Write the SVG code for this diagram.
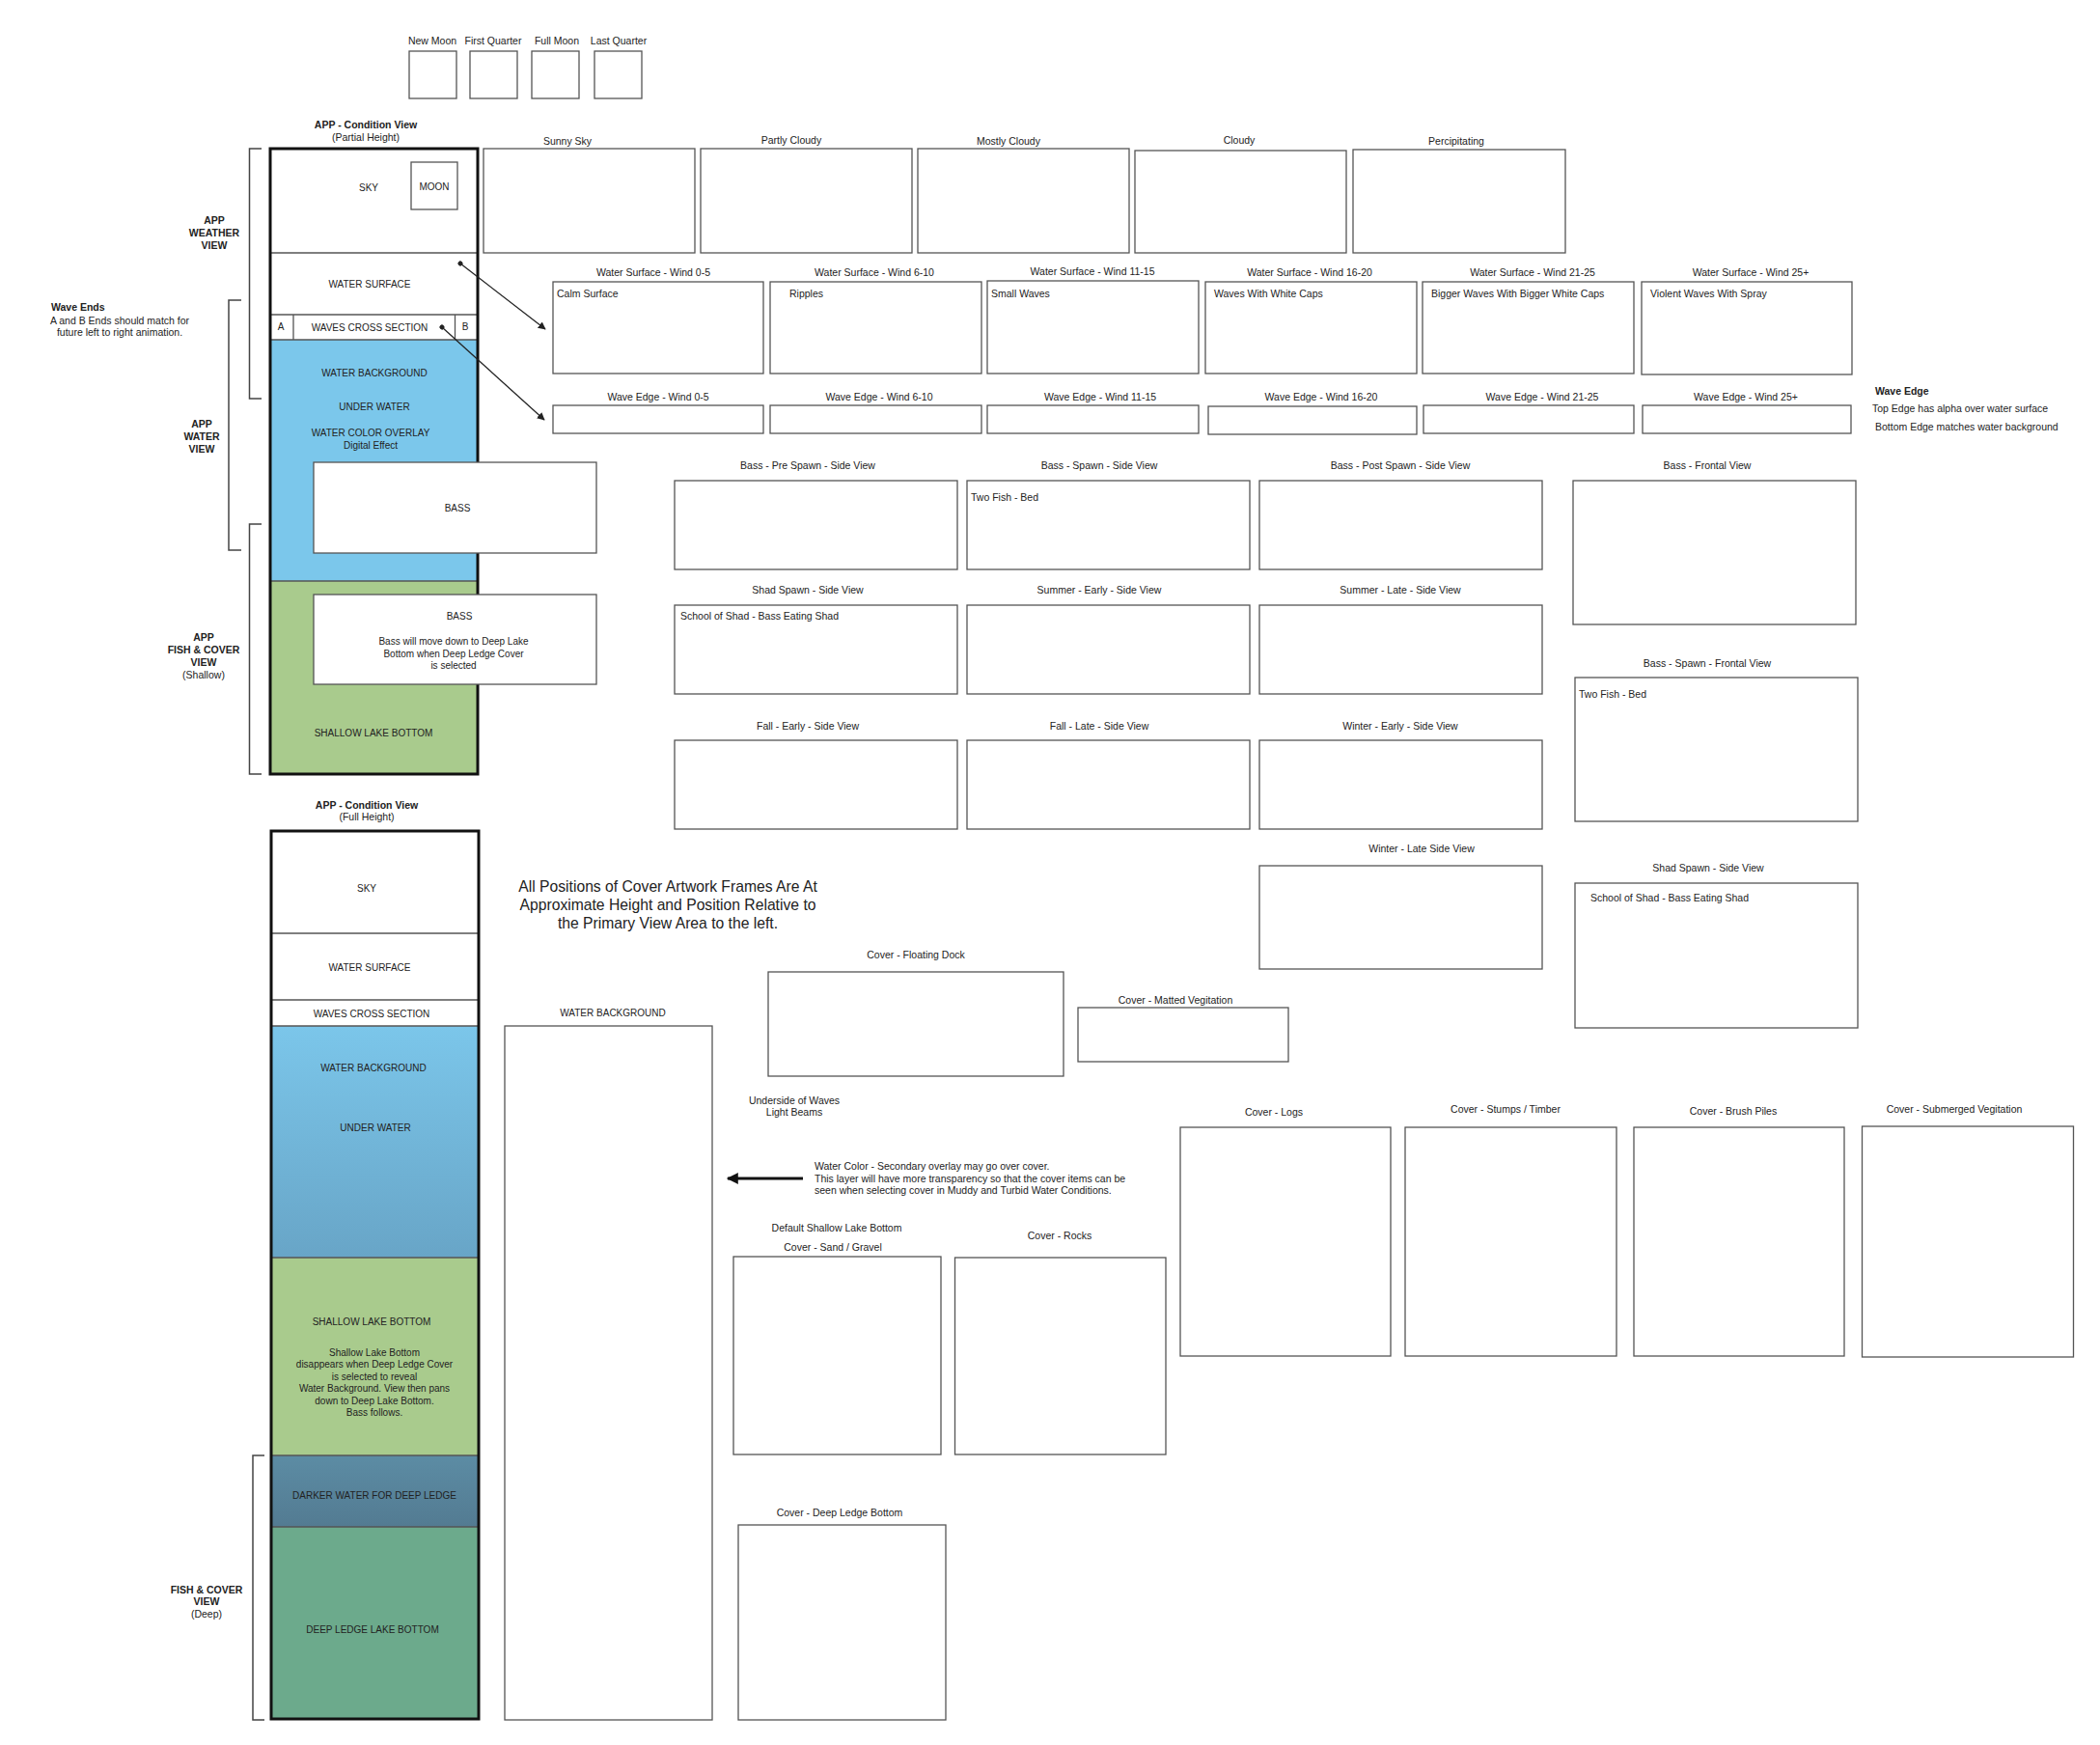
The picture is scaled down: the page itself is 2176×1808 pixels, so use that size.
<svg xmlns="http://www.w3.org/2000/svg" width="2176" height="1808" viewBox="0 0 2176 1808">
<style>
text{font-family:"Liberation Sans",Arial,Helvetica,sans-serif;font-size:10.5px;fill:#222;text-anchor:middle;dominant-baseline:central}
.l{text-anchor:start}
.b{font-weight:bold}
.cv{font-size:10px}
.big{font-size:15.7px}
.box{fill:#fff;stroke:#555;stroke-width:1.3}
.ln{fill:none;stroke:#555;stroke-width:1.3}
.frame{fill:none;stroke:#111;stroke-width:3}
.brk{fill:none;stroke:#444;stroke-width:1.5}
.con{fill:none;stroke:#222;stroke-width:1.3}
</style>
<defs>
<marker id="ah" viewBox="0 0 10 10" refX="9" refY="5" markerWidth="8" markerHeight="8" orient="auto" markerUnits="userSpaceOnUse"><path d="M0,0 L10,5 L0,10 z" fill="#222"/></marker>
<marker id="dot" viewBox="0 0 10 10" refX="5" refY="5" markerWidth="5" markerHeight="5" orient="auto" markerUnits="userSpaceOnUse"><circle cx="5" cy="5" r="5" fill="#222"/></marker>
<marker id="ahbig" viewBox="0 0 10 10" refX="9" refY="5" markerWidth="14" markerHeight="12" orient="auto" markerUnits="userSpaceOnUse"><path d="M0,0 L10,5 L0,10 z" fill="#111"/></marker>
<linearGradient id="gBlue" x1="0" y1="0" x2="0" y2="1"><stop offset="0" stop-color="#7BC6EA"/><stop offset="1" stop-color="#68A5C7"/></linearGradient>
<linearGradient id="gDark" x1="0" y1="0" x2="0" y2="1"><stop offset="0" stop-color="#5C8CA4"/><stop offset="1" stop-color="#537B92"/></linearGradient>
</defs>
<rect width="2176" height="1808" fill="#fff"/>

<!-- Moon phases -->
<g id="moon-new"><rect class="box" x="424" y="53" width="49" height="49"/><text x="448" y="42">New Moon</text></g>
<g id="moon-first"><rect class="box" x="487" y="53" width="49" height="49"/><text x="511" y="42">First Quarter</text></g>
<g id="moon-full"><rect class="box" x="551" y="53" width="49" height="49"/><text x="577" y="42">Full Moon</text></g>
<g id="moon-last"><rect class="box" x="616" y="53" width="49" height="49"/><text x="641" y="42">Last Quarter</text></g>

<!-- Condition view partial -->
<g id="condition-partial">
<text class="b" x="379" y="129">APP -  Condition View</text>
<text x="379" y="142">(Partial Height)</text>
<rect x="280" y="154" width="215" height="198" fill="#fff"/>
<rect x="280" y="352" width="214" height="250" fill="#7BC7EB"/>
<rect x="280" y="602" width="215" height="200" fill="#A9CB8D"/>
<path class="ln" d="M280,262 H495 M280,326 H495 M280,352 H495 M304,326 V352 M471.5,326 V352 M280,602 H495"/>
<rect class="box" x="426" y="168" width="48" height="49"/>
<text class="cv" x="382" y="194">SKY</text>
<text class="cv" x="450" y="193">MOON</text>
<text class="cv" x="383" y="294">WATER SURFACE</text>
<text class="cv" x="291" y="338">A</text>
<text class="cv" x="383" y="339">WAVES CROSS SECTION</text>
<text class="cv" x="482" y="338">B</text>
<text class="cv" x="388" y="386">WATER BACKGROUND</text>
<text class="cv" x="388" y="421">UNDER WATER</text>
<text class="cv" x="384" y="448">WATER COLOR OVERLAY</text>
<text class="cv" x="384" y="461">Digital Effect</text>
<text class="cv" x="387" y="759">SHALLOW LAKE BOTTOM</text>
<rect class="frame" x="280" y="154" width="215" height="648"/>
</g>
<g id="bass-1"><rect class="box" x="325" y="479" width="293" height="94"/><text class="cv" x="474" y="526">BASS</text></g>
<g id="bass-2"><rect class="box" x="325" y="616" width="293" height="93"/>
<text class="cv" x="476" y="638">BASS</text>
<text class="cv" x="470" y="664">Bass will move down to Deep Lake</text>
<text class="cv" x="470" y="677">Bottom when Deep Ledge Cover</text>
<text class="cv" x="470" y="689">is selected</text></g>

<!-- Brackets and side labels -->
<g id="weather-view-label"><path class="brk" d="M271,154 H258.5 V413 H271"/>
<text class="b" x="222" y="228">APP</text><text class="b" x="222" y="241">WEATHER</text><text class="b" x="222" y="254">VIEW</text></g>
<g id="water-view-label"><path class="brk" d="M250,311 H237 V570 H250"/>
<text class="b" x="209" y="439">APP</text><text class="b" x="209" y="452">WATER</text><text class="b" x="209" y="465">VIEW</text></g>
<g id="fish-cover-shallow-label"><path class="brk" d="M271,543 H258.5 V802 H271"/>
<text class="b" x="211" y="660">APP</text><text class="b" x="211" y="673">FISH &amp; COVER</text><text class="b" x="211" y="686">VIEW</text><text x="211" y="699">(Shallow)</text></g>
<g id="wave-ends-note">
<text class="b l" x="53" y="318">Wave Ends</text>
<text x="124" y="332">A and B Ends should match for</text>
<text x="124" y="344">future left to right animation.</text></g>

<!-- Sky row -->
<g id="sky-sunny"><rect class="box" x="501" y="154" width="219" height="108"/><text x="588" y="146">Sunny Sky</text></g>
<g id="sky-partly"><rect class="box" x="726" y="154" width="219" height="108"/><text x="820" y="145">Partly Cloudy</text></g>
<g id="sky-mostly"><rect class="box" x="951" y="154" width="219" height="108"/><text x="1045" y="146">Mostly Cloudy</text></g>
<g id="sky-cloudy"><rect class="box" x="1176" y="156" width="219" height="106"/><text x="1284" y="145">Cloudy</text></g>
<g id="sky-precip"><rect class="box" x="1402" y="155" width="220" height="107"/><text x="1509" y="146">Percipitating</text></g>

<!-- Water surface row -->
<g id="ws-0-5"><rect class="box" x="573" y="292" width="218" height="95"/><text x="677" y="282">Water Surface - Wind 0-5</text><text class="l" x="577" y="304">Calm Surface</text></g>
<g id="ws-6-10"><rect class="box" x="798" y="292" width="219" height="95"/><text x="906" y="282">Water Surface - Wind 6-10</text><text class="l" x="818" y="304">Ripples</text></g>
<g id="ws-11-15"><rect class="box" x="1023" y="291" width="219" height="96"/><text x="1132" y="281">Water Surface - Wind 11-15</text><text class="l" x="1027" y="304">Small Waves</text></g>
<g id="ws-16-20"><rect class="box" x="1249" y="292" width="219" height="95"/><text x="1357" y="282">Water Surface - Wind 16-20</text><text class="l" x="1258" y="304">Waves With White Caps</text></g>
<g id="ws-21-25"><rect class="box" x="1474" y="292" width="219" height="95"/><text x="1588" y="282">Water Surface - Wind  21-25</text><text class="l" x="1483" y="304">Bigger Waves With Bigger White Caps</text></g>
<g id="ws-25"><rect class="box" x="1701" y="292" width="218" height="96"/><text x="1814" y="282">Water Surface - Wind  25+</text><text class="l" x="1710" y="304">Violent Waves With Spray</text></g>

<!-- Wave edge row -->
<g id="we-0-5"><rect class="box" x="573" y="420" width="218" height="29"/><text x="682" y="411">Wave Edge  - Wind 0-5</text></g>
<g id="we-6-10"><rect class="box" x="798" y="420" width="219" height="29"/><text x="911" y="411">Wave Edge  - Wind 6-10</text></g>
<g id="we-11-15"><rect class="box" x="1023" y="420" width="219" height="29"/><text x="1140" y="411">Wave Edge  - Wind 11-15</text></g>
<g id="we-16-20"><rect class="box" x="1252" y="421" width="216" height="29"/><text x="1369" y="411">Wave Edge  - Wind 16-20</text></g>
<g id="we-21-25"><rect class="box" x="1475" y="420" width="218" height="29"/><text x="1598" y="411">Wave Edge  - Wind 21-25</text></g>
<g id="we-25"><rect class="box" x="1702" y="420" width="216" height="29"/><text x="1809" y="411">Wave Edge - Wind 25+</text></g>
<g id="wave-edge-note">
<text class="b l" x="1943" y="405">Wave Edge</text>
<text class="l" x="1940" y="423">Top Edge has alpha over water surface</text>
<text class="l" x="1943" y="442">Bottom Edge matches water background</text></g>

<!-- Bass / season frames -->
<g id="bass-prespawn"><rect class="box" x="699" y="498" width="293" height="92"/><text x="837" y="482">Bass - Pre Spawn - Side  View</text></g>
<g id="bass-spawn"><rect class="box" x="1002" y="498" width="293" height="92"/><text x="1139" y="482">Bass - Spawn - Side  View</text><text class="l" x="1006" y="515">Two Fish - Bed</text></g>
<g id="bass-postspawn"><rect class="box" x="1305" y="498" width="293" height="92"/><text x="1451" y="482">Bass - Post Spawn - Side  View</text></g>
<g id="bass-frontal"><rect class="box" x="1630" y="498" width="293" height="149"/><text x="1769" y="482">Bass - Frontal  View</text></g>
<g id="shad-spawn-side"><rect class="box" x="699" y="627" width="293" height="92"/><text x="837" y="611">Shad Spawn - Side  View</text><text class="l" x="705" y="638">School of Shad - Bass Eating Shad</text></g>
<g id="summer-early"><rect class="box" x="1002" y="627" width="293" height="92"/><text x="1139" y="611">Summer - Early - Side  View</text></g>
<g id="summer-late"><rect class="box" x="1305" y="627" width="293" height="92"/><text x="1451" y="611">Summer - Late - Side  View</text></g>
<g id="bass-spawn-frontal"><rect class="box" x="1632" y="702" width="293" height="149"/><text x="1769" y="687">Bass - Spawn - Frontal  View</text><text class="l" x="1636" y="719">Two Fish - Bed</text></g>
<g id="fall-early"><rect class="box" x="699" y="767" width="293" height="92"/><text x="837" y="752">Fall - Early - Side  View</text></g>
<g id="fall-late"><rect class="box" x="1002" y="767" width="293" height="92"/><text x="1139" y="752">Fall - Late - Side  View</text></g>
<g id="winter-early"><rect class="box" x="1305" y="767" width="293" height="92"/><text x="1451" y="752">Winter - Early - Side  View</text></g>
<g id="winter-late"><rect class="box" x="1305" y="897" width="293" height="107"/><text x="1473" y="879">Winter - Late Side View</text></g>
<g id="shad-spawn-right"><rect class="box" x="1632" y="915" width="293" height="150"/><text x="1770" y="899">Shad Spawn - Side  View</text><text class="l" x="1648" y="930">School of Shad - Bass Eating Shad</text></g>

<!-- Condition view full -->
<g id="condition-full">
<text class="b" x="380" y="834">APP -  Condition View</text>
<text x="380" y="846">(Full Height)</text>
<rect x="281" y="861" width="215" height="202" fill="#fff"/>
<rect x="281" y="1063" width="215" height="240" fill="url(#gBlue)"/>
<rect x="281" y="1303" width="215" height="205" fill="#A9CB8D"/>
<rect x="281" y="1508" width="215" height="74" fill="url(#gDark)"/>
<rect x="281" y="1582" width="215" height="199" fill="#6CAA8C"/>
<path class="ln" d="M281,967 H496 M281,1036 H496 M281,1063 H496 M281,1303 H496 M281,1508 H496 M281,1582 H496"/>
<text class="cv" x="380" y="920">SKY</text>
<text class="cv" x="383" y="1002">WATER SURFACE</text>
<text class="cv" x="385" y="1050">WAVES CROSS SECTION</text>
<text class="cv" x="387" y="1106">WATER BACKGROUND</text>
<text class="cv" x="389" y="1168">UNDER WATER</text>
<text class="cv" x="385" y="1369">SHALLOW LAKE BOTTOM</text>
<text class="cv" x="388" y="1401">Shallow Lake Bottom</text>
<text class="cv" x="388" y="1413">disappears when Deep Ledge Cover</text>
<text class="cv" x="388" y="1426">is selected to reveal</text>
<text class="cv" x="388" y="1438">Water Background. View then pans</text>
<text class="cv" x="388" y="1451">down to Deep Lake Bottom.</text>
<text class="cv" x="388" y="1463">Bass follows.</text>
<text class="cv" x="388" y="1549">DARKER WATER FOR DEEP LEDGE</text>
<text class="cv" x="386" y="1688">DEEP LEDGE LAKE BOTTOM</text>
<rect class="frame" x="281" y="861" width="215" height="920"/>
</g>
<g id="fish-cover-deep-label"><path class="brk" d="M274,1508 H262 V1782 H274"/>
<text class="b" x="214" y="1647">FISH &amp; COVER</text><text class="b" x="214" y="1659">VIEW</text><text x="214" y="1672">(Deep)</text></g>

<g id="positions-note">
<text class="big" x="692" y="918">All Positions of Cover Artwork Frames Are At</text>
<text class="big" x="692" y="937">Approximate Height and Position Relative to</text>
<text class="big" x="692" y="956">the Primary View Area to the left.</text></g>

<!-- Cover frames -->
<g id="water-background"><rect class="box" x="523" y="1063" width="215" height="719"/><text class="cv" x="635" y="1049">WATER BACKGROUND</text></g>
<g id="cover-floating-dock"><rect class="box" x="796" y="1007" width="306" height="108"/><text x="949" y="989">Cover - Floating Dock</text></g>
<g id="cover-matted"><rect class="box" x="1117" y="1044" width="218" height="56"/><text x="1218" y="1036">Cover - Matted Vegitation</text></g>
<g id="underside-note"><text x="823" y="1140">Underside of Waves</text><text x="823" y="1152">Light Beams</text></g>
<g id="water-color-note">
<text class="l" x="844" y="1208">Water Color - Secondary overlay may go over cover.</text>
<text class="l" x="844" y="1221">This layer will have more transparency so that the cover items can be</text>
<text class="l" x="844" y="1233">seen when selecting cover in Muddy and Turbid Water Conditions.</text></g>
<g id="cover-sand"><rect class="box" x="760" y="1302" width="215" height="205"/><text x="867" y="1272">Default Shallow Lake Bottom</text><text x="863" y="1292">Cover - Sand / Gravel</text></g>
<g id="cover-rocks"><rect class="box" x="989.5" y="1303" width="218.5" height="204"/><text x="1098" y="1280">Cover - Rocks</text></g>
<g id="cover-deep-ledge"><rect class="box" x="765" y="1580" width="215" height="202"/><text x="870" y="1567">Cover - Deep  Ledge Bottom</text></g>
<g id="cover-logs"><rect class="box" x="1223" y="1168" width="218" height="237"/><text x="1320" y="1152">Cover - Logs</text></g>
<g id="cover-stumps"><rect class="box" x="1456" y="1168" width="219" height="237"/><text x="1560" y="1149">Cover - Stumps / Timber</text></g>
<g id="cover-brush"><rect class="box" x="1693" y="1168" width="218" height="237"/><text x="1796" y="1151">Cover - Brush Piles</text></g>
<g id="cover-submerged"><rect class="box" x="1929.5" y="1167" width="219" height="239"/><text x="2025" y="1149">Cover - Submerged Vegitation</text></g>

<!-- Connectors -->
<g id="connectors">
<line class="con" x1="477" y1="273" x2="565" y2="341" marker-start="url(#dot)" marker-end="url(#ah)"/>
<line class="con" x1="458" y1="339" x2="564" y2="435" marker-start="url(#dot)" marker-end="url(#ah)"/>
<line x1="832" y1="1221" x2="754" y2="1221" stroke="#111" stroke-width="3" marker-end="url(#ahbig)"/>
</g>
</svg>
